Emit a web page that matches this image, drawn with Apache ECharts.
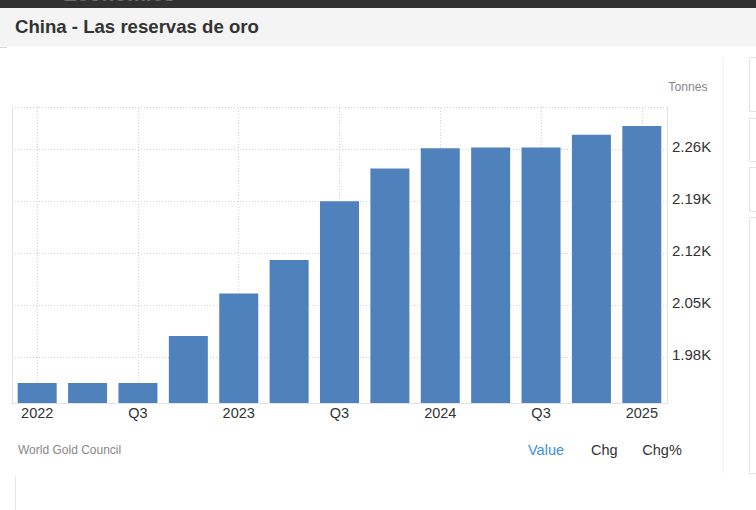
<!DOCTYPE html>
<html>
<head>
<meta charset="utf-8">
<script src="https://cdn.jsdelivr.net/npm/echarts@6/dist/echarts.min.js"></script>
<style>
html,body{margin:0;padding:0;background:#fff;}
#chart{width:756px;height:510px;}
</style>
</head>
<body>
<div id="chart"></div>
<script>
// ---- data ----
const categories = ['2022 Q1','2022 Q2','2022 Q3','2022 Q4','2023 Q1','2023 Q2','2023 Q3','2023 Q4','2024 Q1','2024 Q2','2024 Q3','2024 Q4','2025 Q1'];
const reserves = [1946, 1946, 1946, 2009, 2066, 2111, 2190, 2234, 2261, 2262, 2262, 2279, 2291];
const xTickLabels = ['2022','','Q3','','2023','','Q3','','2024','','Q3','','2025'];
const yTickValues = [1980, 2050, 2120, 2190, 2260];
const yGridValues = [1980, 2050, 2120, 2190, 2260, 2316];
const yMin = 1919, yMax = 2316;
const titleText = 'China - Las reservas de oro';
const unitText = 'Tonnes';
const sourceText = 'World Gold Council';
const tabs = ['Value', 'Chg', 'Chg%'];

const FONT = '"Liberation Sans", Arial, sans-serif';
const chart = echarts.init(document.getElementById('chart'), null, {renderer: 'svg'});

const vLines = categories.filter((c, i) => xTickLabels[i] !== '').map(c => ({xAxis: c}));

chart.setOption({
  animation: false,
  backgroundColor: '#fff',
  grid: {left: 12, right: 89, top: 107.3, bottom: 107, containLabel: false},
  xAxis: {
    type: 'category',
    data: categories,
    boundaryGap: true,
    axisLine: {show: true, lineStyle: {color: '#e3e3e3', width: 1}},
    axisTick: {show: false},
    splitLine: {show: false},
    axisLabel: {
      interval: 0, margin: 2, color: '#333', fontSize: 14.5, fontFamily: FONT,
      formatter: (v, i) => xTickLabels[i]
    }
  },
  yAxis: [{
    type: 'value', position: 'right', min: yMin, max: yMax,
    axisLine: {show: true, lineStyle: {color: '#e3e3e3'}},
    axisTick: {show: false, customValues: yGridValues},
    axisLabel: {
      customValues: yTickValues, margin: 5, color: '#333', fontSize: 15, fontFamily: FONT,
      verticalAlign: 'bottom', lineHeight: 6,
      formatter: v => (v / 1000).toFixed(2) + 'K'
    },
    splitLine: {show: true, lineStyle: {color: '#d2d2d2', type: [1, 2], width: 1}}
  }, {
    type: 'value', position: 'left', min: yMin, max: yMax,
    axisLine: {show: true, lineStyle: {color: '#e3e3e3'}},
    axisTick: {show: false}, axisLabel: {show: false}, splitLine: {show: false}
  }],
  series: [{
    type: 'bar',
    data: reserves,
    yAxisIndex: 0,
    barWidth: '77.4%',
    itemStyle: {color: '#4f81bd'},
    z: 2,
    markLine: {
      silent: true, symbol: 'none', z: 1,
      label: {show: false},
      lineStyle: {color: '#d2d2d2', type: [1, 2], width: 1},
      data: vLines
    }
  }],
  graphic: [
    {type: 'rect', left: 0, top: 0, shape: {x: 0, y: 0, width: 756, height: 8}, style: {fill: '#313131'}},
    {type: 'text', x: 63, y: 4, style: {text: 'Economics', font: 'bold 21px ' + FONT, fill: '#6a6a6a', textVerticalAlign: 'bottom'}},
    {type: 'rect', shape: {x: 0, y: 8, width: 756, height: 38.5}, style: {fill: '#f4f4f4'}},
    {type: 'rect', shape: {x: 0, y: 47, width: 7, height: 1}, style: {fill: '#d8d8d8'}},
    {type: 'text', x: 15, y: 26, style: {text: titleText, font: 'bold 18.6px ' + FONT, fill: '#333', textVerticalAlign: 'middle'}},
    {type: 'text', x: 668.3, y: 87.3, style: {text: unitText, font: '12.2px ' + FONT, fill: '#888', textVerticalAlign: 'middle'}},
    {type: 'text', x: 18, y: 450, style: {text: sourceText, font: '12px ' + FONT, fill: '#888', textVerticalAlign: 'middle'}},
    {type: 'text', x: 528, y: 450, style: {text: tabs[0], font: '14.5px ' + FONT, fill: '#3d8fd9', textVerticalAlign: 'middle'}},
    {type: 'text', x: 591, y: 450, style: {text: tabs[1], font: '14.5px ' + FONT, fill: '#333', textVerticalAlign: 'middle'}},
    {type: 'text', x: 642.3, y: 450, style: {text: tabs[2], font: '14.5px ' + FONT, fill: '#333', textVerticalAlign: 'middle'}},
    {type: 'rect', shape: {x: 722.5, y: 57, width: 1, height: 416}, style: {fill: '#efefef'}},
    {type: 'rect', shape: {x: 749.5, y: 57.5, width: 20, height: 54}, style: {fill: 'none', stroke: '#e2e2e2', lineWidth: 1}},
    {type: 'rect', shape: {x: 749.5, y: 118.5, width: 20, height: 43}, style: {fill: 'none', stroke: '#e2e2e2', lineWidth: 1}},
    {type: 'rect', shape: {x: 749.5, y: 167.5, width: 20, height: 44}, style: {fill: 'none', stroke: '#e2e2e2', lineWidth: 1}},
    {type: 'rect', shape: {x: 749.5, y: 217.5, width: 20, height: 256}, style: {fill: 'none', stroke: '#e2e2e2', lineWidth: 1}},
    {type: 'rect', shape: {x: 15, y: 476, width: 1, height: 34}, style: {fill: '#e6e6e6'}}
  ]
});
</script>
</body>
</html>
